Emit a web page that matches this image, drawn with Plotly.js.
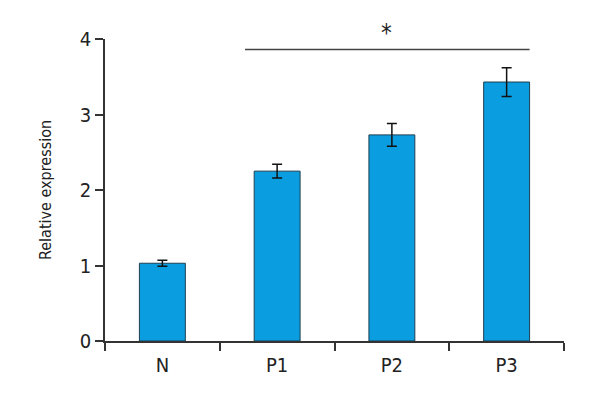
<!DOCTYPE html>
<html><head><meta charset="utf-8">
<script src="https://cdn.plot.ly/plotly-3.0.1.min.js"></script>
<style>body{margin:0}#c{width:600px;height:400px}</style>
</head><body><div id="c"></div>
<script>
const categories = ["N", "P1", "P2", "P3"];
const values = [1.03, 2.25, 2.73, 3.43];
const errors = [0.04, 0.09, 0.15, 0.19];
const yTicks = [0, 1, 2, 3, 4];
const sigLabel = "*";

const font = "'Liberation Sans Narrow', 'DejaVu Sans Condensed', sans-serif";
const trace = {
  type: "bar", x: categories, y: values, width: 0.4,
  marker: {color: "#0a9de0", line: {color: "#1e3f50", width: 1}},
  error_y: {type: "data", array: errors, visible: true, color: "#111", thickness: 1.5, width: 5}
};
const layout = {
  width: 600, height: 400,
  margin: {l: 105, r: 36, t: 39, b: 59},
  paper_bgcolor: "#fff", plot_bgcolor: "#fff",
  font: {family: font, size: 16, color: "#222"},
  showlegend: false,
  xaxis: {range: [-0.5, 3.5], showline: true, linecolor: "#333", linewidth: 1.5,
    ticks: "outside", tickson: "boundaries", ticklen: 8, tickcolor: "#333", tickwidth: 1.5,
    ticklabelstandoff: 5,
    showgrid: false, zeroline: false, tickfont: {family: font, size: 20, color: "#222"}},
  yaxis: {range: [0, 4], tickvals: yTicks, showline: true, linecolor: "#333", linewidth: 1.5,
    ticks: "outside", ticklen: 8, tickcolor: "#333", tickwidth: 1.5, showgrid: false, zeroline: false,
    tickfont: {family: font, size: 20, color: "#222"},
    title: {text: "Relative expression", font: {family: font, size: 16, color: "#222"}, standoff: 24}},
  shapes: [{type: "line", xref: "x", yref: "y", x0: 0.72, x1: 3.2, y0: 3.86, y1: 3.86,
    line: {color: "#444", width: 1.5}}],
  annotations: [{xref: "x", yref: "y", x: 1.95, y: 3.86, yshift: 1, yanchor: "bottom", showarrow: false,
    text: sigLabel, font: {family: font, size: 24, color: "#222"}}]
};
Plotly.newPlot("c", [trace], layout, {displayModeBar: false});
</script></body></html>
